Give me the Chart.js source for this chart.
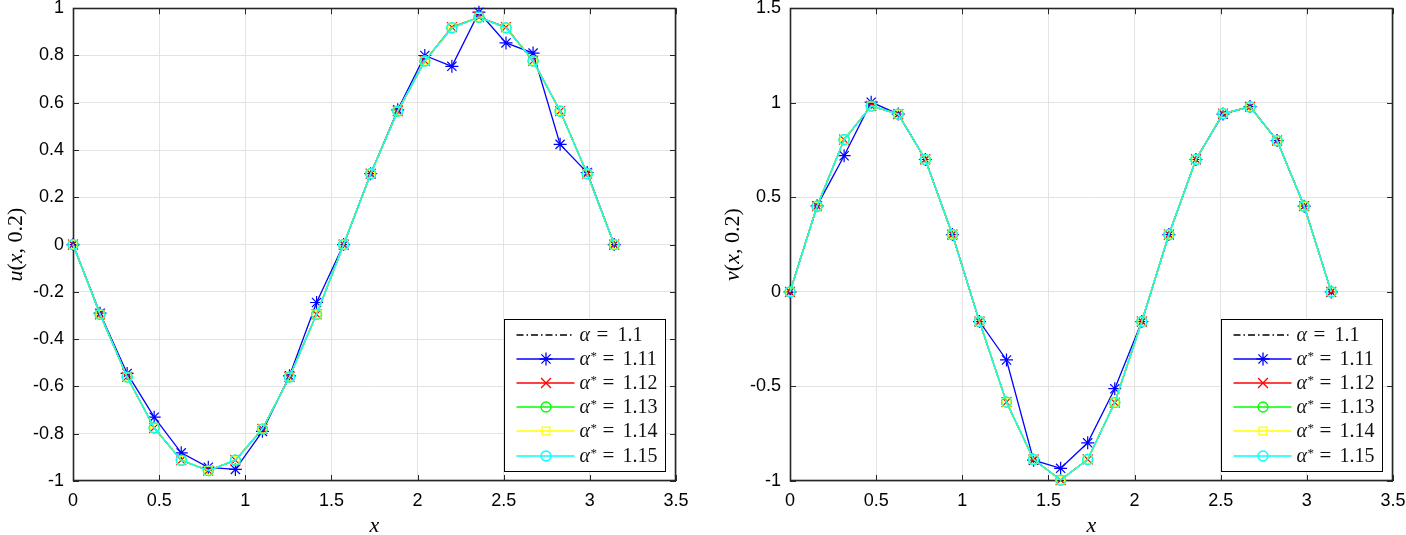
<!DOCTYPE html>
<html><head><meta charset="utf-8">
<script src="https://cdn.jsdelivr.net/npm/chart.js@4.4.1/dist/chart.umd.min.js"></script>
<style>
html,body{margin:0;padding:0;background:#fff;overflow:hidden}
#wrap{position:relative;width:1406px;height:535px}
.c{position:absolute;top:0;height:535px;width:703px}
</style></head><body>
<div id="wrap">
<div class="c" style="left:0"><canvas id="cu"></canvas></div>
<div class="c" style="left:703px"><canvas id="cv"></canvas></div>
</div>
<script>
// ---------- data ----------
const xValues = [0,0.1571,0.3142,0.4712,0.6283,0.7854,0.9425,1.0996,1.2566,1.4137,1.5708,1.7279,1.8850,2.0420,2.1991,2.3562,2.5133,2.6704,2.8274,2.9845,3.1416];
const seriesLabels = ['α = 1.1','α* = 1.11','α* = 1.12','α* = 1.13','α* = 1.14','α* = 1.15'];
const xTicks = [0,0.5,1,1.5,2,2.5,3,3.5];
const uTicks = [-1,-0.8,-0.6,-0.4,-0.2,0,0.2,0.4,0.6,0.8,1];
const vTicks = [-1,-0.5,0,0.5,1,1.5];

const u_a110 = [0,-0.295,-0.56,-0.775,-0.912,-0.956,-0.912,-0.78,-0.56,-0.295,0,0.30,0.565,0.777,0.917,0.962,0.917,0.777,0.565,0.30,0];
const u_a111 = [0,-0.29,-0.545,-0.73,-0.881,-0.942,-0.951,-0.79,-0.555,-0.245,0,0.30,0.57,0.80,0.754,0.983,0.853,0.81,0.424,0.305,0];
const u_a112 = [0,-0.295,-0.56,-0.775,-0.912,-0.956,-0.912,-0.78,-0.56,-0.295,0,0.30,0.565,0.777,0.92,0.962,0.92,0.777,0.565,0.30,0];
const u_a113 = [0,-0.295,-0.56,-0.775,-0.912,-0.956,-0.912,-0.78,-0.56,-0.295,0,0.30,0.565,0.777,0.917,0.962,0.917,0.777,0.565,0.30,0];
const u_a114 = [0,-0.295,-0.56,-0.775,-0.912,-0.956,-0.912,-0.78,-0.56,-0.295,0,0.30,0.565,0.777,0.917,0.962,0.917,0.777,0.565,0.30,0];
const u_a115 = [0,-0.295,-0.56,-0.775,-0.912,-0.956,-0.912,-0.78,-0.56,-0.295,0,0.30,0.565,0.777,0.917,0.962,0.917,0.777,0.565,0.30,0];

const v_a110 = [0,0.453,0.805,0.983,0.94,0.70,0.303,-0.157,-0.583,-0.886,-0.995,-0.886,-0.585,-0.157,0.303,0.70,0.943,0.978,0.80,0.453,0];
const v_a111 = [0,0.455,0.72,1.003,0.94,0.70,0.303,-0.157,-0.36,-0.89,-0.933,-0.798,-0.512,-0.157,0.303,0.70,0.94,0.98,0.80,0.453,0];
const v_a112 = [0,0.453,0.805,0.983,0.94,0.70,0.303,-0.157,-0.583,-0.886,-0.995,-0.886,-0.585,-0.157,0.303,0.70,0.943,0.978,0.80,0.453,0];
const v_a113 = [0,0.453,0.805,0.983,0.94,0.70,0.303,-0.157,-0.583,-0.886,-0.995,-0.886,-0.585,-0.157,0.303,0.70,0.943,0.978,0.80,0.453,0];
const v_a114 = [0,0.453,0.805,0.983,0.94,0.70,0.303,-0.157,-0.583,-0.886,-0.995,-0.886,-0.585,-0.157,0.303,0.70,0.943,0.978,0.80,0.453,0];
const v_a115 = [0,0.453,0.805,0.983,0.94,0.70,0.303,-0.157,-0.583,-0.886,-0.995,-0.886,-0.585,-0.157,0.303,0.70,0.943,0.978,0.80,0.453,0];

// ---------- styles ----------
const styles = [
  {color:'#000000', dash:[7,3,1.5,3], point:false, r:0},
  {color:'#0000ff', dash:[], point:'star', r:6.5},
  {color:'#ff0000', dash:[], point:'crossRot', r:7},
  {color:'#00ff00', dash:[], point:'circle', r:5},
  {color:'#ffff00', dash:[], point:'rect', r:5.5},
  {color:'#00ffff', dash:[], point:'circle', r:5}
];
const TICK_FONT = {family:'"Liberation Sans", Arial, sans-serif', size:18};
const SERIF = '"Liberation Serif", "Times New Roman", serif';

function makeDatasets(series){
  return series.map((vals,i)=>{
    const s = styles[i];
    return {
      label: seriesLabels[i],
      data: xValues.map((x,k)=>({x:x, y:vals[k]})),
      borderColor: s.color,
      borderWidth: 1.3,
      borderDash: s.dash,
      pointStyle: s.point,
      pointRadius: s.r,
      pointBorderWidth: 1.2,
      pointBorderColor: s.color,
      pointBackgroundColor: 'rgba(0,0,0,0)',
      pointHoverRadius: s.r,
      tension: 0,
      clip: false,
      order: series.length - 1 - i
    };
  });
}

// ---------- rich text helper ----------
function segFont(s, size){ return (s.i ? 'italic ' : '') + (s.size || size) + 'px ' + SERIF; }
function richWidth(ctx, segs, size){
  let w = 0;
  for (const s of segs){ ctx.font = segFont(s,size); w += ctx.measureText(s.t).width + (s.dx||0); }
  return w;
}
function drawRich(ctx, segs, x, y, size){
  for (const s of segs){
    ctx.font = segFont(s,size);
    ctx.fillText(s.t, x, y + (s.dy||0));
    x += ctx.measureText(s.t).width + (s.dx||0);
  }
}

// ---------- plugins ----------
const frame = {
  id:'frame',
  beforeDatasetsDraw(chart){
    const {ctx, chartArea:a, scales:{x,y}} = chart;
    ctx.save();
    ctx.strokeStyle = '#262626';
    ctx.lineWidth = 1;
    ctx.beginPath();
    for (const t of x.ticks){
      const px = Math.round(x.getPixelForValue(t.value)) + 0.5;
      ctx.moveTo(px, a.bottom); ctx.lineTo(px, a.bottom - 6);
      ctx.moveTo(px, a.top); ctx.lineTo(px, a.top + 6);
    }
    for (const t of y.ticks){
      const py = Math.round(y.getPixelForValue(t.value)) + 0.5;
      ctx.moveTo(a.left, py); ctx.lineTo(a.left + 6, py);
      ctx.moveTo(a.right, py); ctx.lineTo(a.right - 6, py);
    }
    ctx.stroke();
    ctx.lineWidth = 1.6;
    ctx.strokeRect(Math.round(a.left)+0.5, Math.round(a.top)+0.5, Math.round(a.width)-1, Math.round(a.height)-1);
    ctx.restore();
  },
  afterDraw(chart){
    const {ctx, chartArea:a} = chart;
    const o = chart.options.plugins.frame;
    ctx.save();
    ctx.fillStyle = '#000';
    ctx.textBaseline = 'alphabetic';
    // x title
    const xs = [{t:'x', i:true}];
    const xw = richWidth(ctx, xs, 22);
    drawRich(ctx, xs, (a.left + a.right)/2 - xw/2, 532, 22);
    // y title (rotated)
    const ys = [{t:o.yName, i:true},{t:'('},{t:'x', i:true},{t:', 0.2)'}];
    const yw = richWidth(ctx, ys, 22);
    ctx.translate(o.yTitleX, (a.top + a.bottom)/2);
    ctx.rotate(-Math.PI/2);
    drawRich(ctx, ys, -yw/2, 0, 22);
    ctx.restore();

    // legend
    const W = 161, H = 152;
    const bx = Math.round(a.right - 11 - W) + 0.5, by = Math.round(a.bottom - 10 - H) + 0.5;
    ctx.save();
    ctx.fillStyle = '#fff';
    ctx.fillRect(bx, by, W, H);
    ctx.strokeStyle = '#000';
    ctx.lineWidth = 1;
    ctx.strokeRect(bx, by, W, H);
    chart.data.datasets.forEach((ds, i)=>{
      const s = styles[i];
      const cy = Math.round(by + 15 + i * 24.2);
      ctx.strokeStyle = s.color;
      ctx.lineWidth = 1.4;
      ctx.setLineDash(s.dash);
      ctx.beginPath(); ctx.moveTo(bx + 12, cy); ctx.lineTo(bx + 70, cy); ctx.stroke();
      ctx.setLineDash([]);
      drawMarker(ctx, s.point, Math.round(bx + 41), cy, s.r, s.color);
      const parts = ds.label.split(' = ');
      const star = parts[0].endsWith('*');
      const tx = bx + 75, ty = cy + 6;
      ctx.fillStyle = '#111';
      ctx.font = 'italic 20px ' + SERIF;
      ctx.fillText('α', tx, ty);
      if (star){ ctx.font = '13px ' + SERIF; ctx.fillText('*', tx + 11, ty - 5); }
      ctx.font = '21px ' + SERIF;
      ctx.fillText('=', tx + (star ? 23 : 17), ty);
      ctx.font = '20px ' + SERIF;
      ctx.fillText(parts[1], tx + (star ? 43 : 38), ty);
    });
    ctx.restore();
  }
};

function drawMarker(ctx, type, x, y, r, color){
  if (!type) return;
  ctx.save();
  ctx.strokeStyle = color; ctx.lineWidth = 1.3;
  ctx.beginPath();
  if (type === 'circle'){ ctx.arc(x, y, r, 0, Math.PI*2); }
  else if (type === 'rect'){ const h = r*Math.SQRT1_2; ctx.rect(x-h, y-h, 2*h, 2*h); }
  else if (type === 'crossRot' || type === 'star'){
    const d = r*Math.SQRT1_2;
    ctx.moveTo(x-d,y-d); ctx.lineTo(x+d,y+d); ctx.moveTo(x-d,y+d); ctx.lineTo(x+d,y-d);
    if (type === 'star'){ ctx.moveTo(x,y-r); ctx.lineTo(x,y+r); ctx.moveTo(x-r,y); ctx.lineTo(x+r,y); }
  }
  ctx.stroke();
  ctx.restore();
}

function fmt(v){ return String(parseFloat(Number(v).toFixed(2))); }

function makeChart(id, series, yTicks, yName, yWidth, rightPad, yTitleX){
  return new Chart(document.getElementById(id), {
    type:'line',
    data:{ datasets: makeDatasets(series) },
    options:{
      animation:false, responsive:true, maintainAspectRatio:false,
      events:[],
      layout:{ padding:{ left:0, right:rightPad, top:6, bottom:0 } },
      plugins:{ legend:{display:false}, tooltip:{enabled:false}, frame:{ yName:yName, yTitleX:yTitleX } },
      scales:{
        x:{
          type:'linear', min:xTicks[0], max:xTicks[xTicks.length-1],
          afterBuildTicks(s){ s.ticks = xTicks.map(v=>({value:v})); },
          ticks:{ font:TICK_FONT, color:'#000', padding:9, maxRotation:0, autoSkip:false, callback:fmt },
          grid:{ color:'#e3e3e3', lineWidth:1, drawTicks:false },
          border:{ display:false },
          afterFit(s){ s.height = 54; s.paddingLeft = 0; s.paddingRight = 0; }
        },
        y:{
          type:'linear', min:yTicks[0], max:yTicks[yTicks.length-1],
          afterBuildTicks(s){ s.ticks = yTicks.map(v=>({value:v})); },
          ticks:{ font:TICK_FONT, color:'#000', padding:9, autoSkip:false, callback:fmt },
          grid:{ color:'#e3e3e3', lineWidth:1, drawTicks:false },
          border:{ display:false },
          afterFit(s){ s.width = yWidth; s.paddingTop = 0; s.paddingBottom = 0; }
        }
      }
    },
    plugins:[frame]
  });
}

makeChart('cu', [u_a110,u_a111,u_a112,u_a113,u_a114,u_a115], uTicks, 'u', 73, 27, 22);
makeChart('cv', [v_a110,v_a111,v_a112,v_a113,v_a114,v_a115], vTicks, 'v', 87, 13, 36);
</script>
</body></html>
